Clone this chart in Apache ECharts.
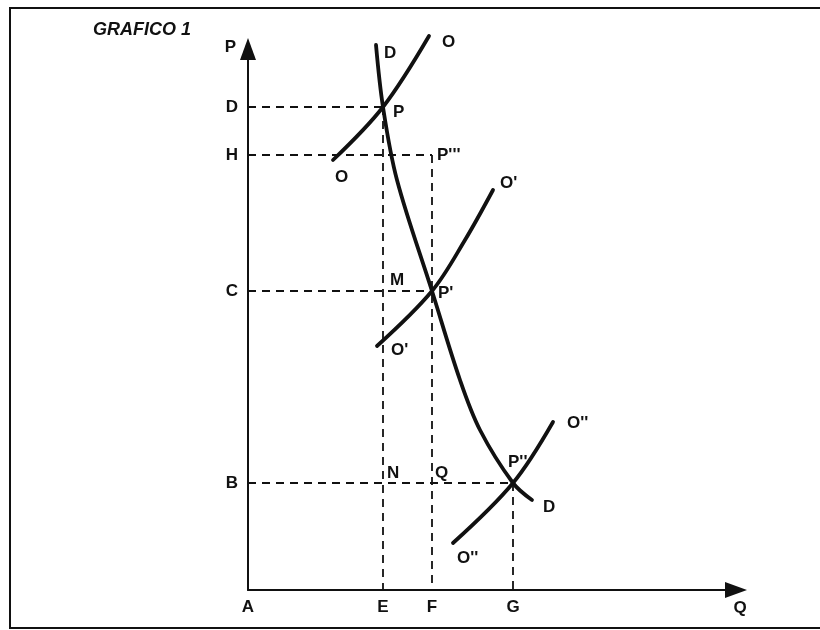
<!DOCTYPE html>
<html>
<head>
<meta charset="utf-8">
<title>GRAFICO 1</title>
<script src="https://cdn.jsdelivr.net/npm/echarts@6/dist/echarts.min.js"></script>
<style>
  html, body { margin: 0; padding: 0; background: #fff; }
  #chart { width: 820px; height: 630px; }
</style>
</head>
<body>
<div id="chart"></div>
<script>
// axis marks (Q = quantity, P = price)
const qTicks = [0, 135, 184, 265];
const qNames = ["A", "E", "F", "G"];
const pTicks = [107, 299, 435, 483];
const pNames = ["B", "C", "H", "D"];

// demand curve D-D
const demandD = [[128, 545], [135, 483], [149, 410], [184, 299], [212, 210], [232, 160], [265, 107], [284, 90]];
// supply curves O-O, O'-O', O''-O''
const supplyO = [[85, 430], [135, 483], [181, 554]];
const supplyO1 = [[129, 244], [184, 299], [217, 350], [245, 400]];
const supplyO2 = [[205, 47], [265, 107], [305, 168]];

// equilibrium points
const ptP = [135, 483];
const ptP1 = [184, 299];
const ptP2 = [265, 107];
const ptP3 = [184, 435];

// text on the plot: [q, p, text]
const plotLabels = [
  [136, 537, "D"], [194, 548, "O"], [145, 478, "P"], [87, 413, "O"],
  [189, 435, "P'''"], [252, 407, "O'"], [142, 310, "M"], [190, 297, "P'"],
  [143, 240, "O'"], [319, 167, "O''"], [260, 128, "P''"], [139, 117, "N"],
  [187, 117, "Q"], [295, 83, "D"], [209, 32, "O''"]
];

const font = "Liberation Sans, Arial, Helvetica, sans-serif";

function dashed(a, b) {
  return {
    type: "line", data: [a, b], symbol: "none", silent: true,
    lineStyle: { color: "#111", width: 1.8, type: [8, 6] }
  };
}
function curve(d) {
  return {
    type: "line", data: d, smooth: 0.35, symbol: "none", clip: false, silent: true,
    lineStyle: { color: "#111", width: 3.8, cap: "round" }
  };
}

const chart = echarts.init(document.getElementById("chart"));
chart.setOption({
  animation: false,
  title: {
    text: "GRAFICO 1", left: 88, top: 16,
    textStyle: { fontFamily: font, fontSize: 18, fontStyle: "italic", fontWeight: "bold", color: "#111" }
  },
  graphic: [{
    type: "rect", shape: { x: 10, y: 8, width: 830, height: 620 },
    style: { fill: "none", stroke: "#111", lineWidth: 2 }, silent: true
  }],
  grid: { left: 248, right: 84, top: 49, bottom: 40 },
  xAxis: {
    type: "value", min: 0, max: 488,
    name: "Q", nameLocation: "end", nameGap: 4,
    nameTextStyle: { fontFamily: font, fontSize: 17, fontWeight: "bold", color: "#111", align: "center", verticalAlign: "top", padding: [10, 0, 0, 0] },
    axisLine: { show: true, symbol: ["none", "triangle"], symbolSize: [16, 22], lineStyle: { color: "#111", width: 2 } },
    axisTick: { show: false },
    splitLine: { show: false },
    axisLabel: {
      customValues: qTicks, margin: 9,
      fontFamily: font, fontSize: 17, fontWeight: "bold", color: "#111",
      formatter: v => qNames[qTicks.indexOf(v)] || ""
    }
  },
  yAxis: {
    type: "value", min: 0, max: 541,
    name: "P", nameLocation: "end", nameGap: 2,
    nameTextStyle: { fontFamily: font, fontSize: 17, fontWeight: "bold", color: "#111", align: "right", verticalAlign: "middle", padding: [0, 12, 0, 0] },
    axisLine: { show: true, symbol: ["none", "triangle"], symbolSize: [16, 22], lineStyle: { color: "#111", width: 2 } },
    axisTick: { show: false },
    splitLine: { show: false },
    axisLabel: {
      customValues: pTicks, margin: 10,
      fontFamily: font, fontSize: 17, fontWeight: "bold", color: "#111",
      formatter: v => pNames[pTicks.indexOf(v)] || ""
    }
  },
  series: [
    dashed([0, ptP[1]], ptP),
    dashed(ptP, [ptP[0], 0]),
    dashed([0, ptP3[1]], ptP3),
    dashed(ptP3, [ptP3[0], 0]),
    dashed([0, ptP1[1]], ptP1),
    dashed([0, ptP2[1]], ptP2),
    dashed(ptP2, [ptP2[0], 0]),
    curve(demandD),
    curve(supplyO),
    curve(supplyO1),
    curve(supplyO2),
    {
      type: "scatter", clip: false, silent: true, symbolSize: 0,
      itemStyle: { color: "#111", opacity: 1 },
      data: plotLabels.map(l => ({ value: [l[0], l[1]], name: l[2] })),
      label: {
        show: true, position: "right", distance: 0, opacity: 1,
        formatter: p => p.name,
        fontFamily: font, fontSize: 17, fontWeight: "bold", color: "#111"
      }
    }
  ]
});
</script>
</body>
</html>
